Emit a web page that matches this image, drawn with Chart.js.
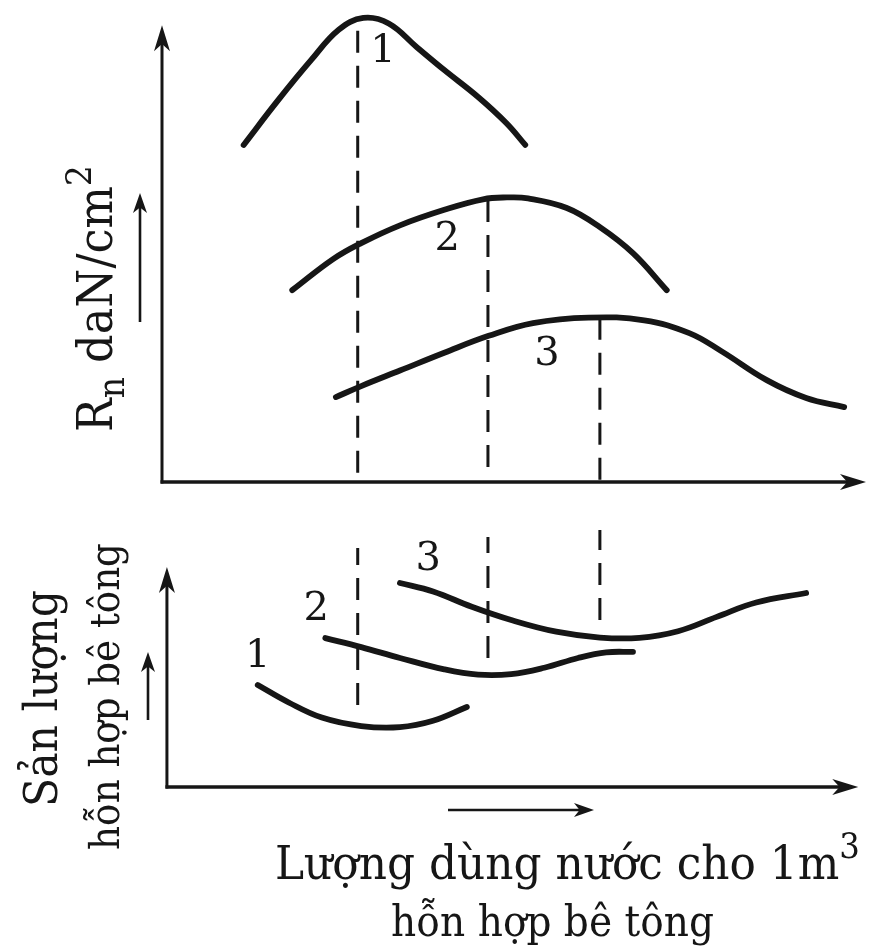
<!DOCTYPE html>
<html><head><meta charset="utf-8">
<script src="https://cdn.jsdelivr.net/npm/chart.js@4"></script>
<style>
html,body{margin:0;padding:0;background:#fff;}
#wrap{position:relative;width:871px;height:950px;overflow:hidden;background:#fff}
canvas{position:absolute;left:0}
#c1{top:0;width:871px;height:500px}
#c2{top:500px;width:871px;height:450px}
</style></head><body>
<div id="wrap"><canvas id="c1" width="871" height="500"></canvas><canvas id="c2" width="871" height="450"></canvas></div>
<script>
// ---------- data (arbitrary units) ----------
const curveLabels = ['1', '2', '3'];

// Top panel: strength R_n vs water content
const strength1X = [11.6, 16.5, 21.2, 25.1, 28.6, 32.2, 36.2, 40.1, 44.9, 48.9, 51.6];
const strength1Y = [73.8, 83.6, 92.4, 99.0, 101.6, 100.4, 95.2, 90.2, 84.3, 78.6, 73.8];
const strength2X = [18.5, 24.3, 28.3, 33.8, 40.1, 45.6, 49.0, 52.0, 57.5, 62.2, 66.9, 71.7];
const strength2Y = [42.0, 48.8, 52.3, 56.2, 59.6, 61.9, 62.3, 62.1, 60.0, 55.8, 50.1, 42.0];
const strength3X = [24.7, 28.3, 33.8, 40.1, 46.4, 52.7, 60.6, 68.5, 74.9, 79.5, 85.9, 91.5, 96.9];
const strength3Y = [18.6, 21.0, 24.4, 28.3, 32.0, 34.8, 36.0, 35.4, 32.6, 28.6, 22.3, 18.4, 16.4];
const strengthOptX = [27.8, 46.3, 62.2];
const strengthOptHigh = [101.0, 62.2, 36.0];
const strengthOptLow = [2.0, 3.3, 0.5];
const strengthLabelX = [31.4, 40.5, 54.7];
const strengthLabelY = [94.2, 53.0, 27.8];

// Bottom panel: yield of concrete mix vs water content
const yield1X = [13.6, 18.0, 22.7, 28.3, 33.8, 38.5, 43.3];
const yield1Y = [38.5, 31.9, 26.2, 23.0, 22.6, 25.0, 30.2];
const yield2X = [23.2, 28.3, 33.8, 40.1, 44.9, 49.6, 54.3, 59.1, 63.1, 66.9];
const yield2Y = [56.2, 52.8, 48.7, 44.4, 42.4, 42.6, 45.0, 48.7, 50.8, 51.0];
const yield3X = [33.8, 38.5, 44.0, 49.6, 56.0, 62.2, 67.8, 73.3, 78.8, 84.4, 91.5];
const yield3Y = [77.0, 73.8, 68.0, 63.0, 58.6, 56.4, 56.3, 58.8, 64.2, 69.6, 73.2];
const yieldOptX = [27.8, 46.3, 62.2];
const yieldOptHigh = [90.2, 94.3, 97.0];
const yieldOptLow = [30.9, 48.7, 63.0];
const yieldLabelX = [13.6, 21.9, 37.8];
const yieldLabelY = [49.1, 66.8, 85.7];

// texts
const topYTitle = [{t:'R'}, {t:'n', k:'sub'}, {t:' daN/cm'}, {t:'2', k:'sup'}];
const botYTitle1 = 'Sản lượng';
const botYTitle2 = 'hỗn hợp bê tông';
const xTitle1 = [{t:'Lượng dùng nước cho 1m'}, {t:'3', k:'sup'}];
const xTitle2 = 'hỗn hợp bê tông';

// ---------- drawing helpers ----------
const INK = '#161616';
const FAMILY = '"DejaVu Serif", "Liberation Serif", serif';
const SMALL = 0.74;
const pts = (xs, ys) => xs.map((x, i) => ({x, y: ys[i]}));

function arrowHead(ctx, tx, ty, dx, dy, len, hw) {
  const px = -dy, py = dx;
  const bx = tx - dx * len, by = ty - dy * len;
  const nx = tx - dx * len * 0.72, ny = ty - dy * len * 0.72;
  ctx.beginPath();
  ctx.moveTo(tx, ty);
  ctx.lineTo(bx + px * hw, by + py * hw);
  ctx.lineTo(nx, ny);
  ctx.lineTo(bx - px * hw, by - py * hw);
  ctx.closePath();
  ctx.fill();
}
function arrow(ctx, x1, y1, x2, y2, lw, len, hw) {
  const L = Math.hypot(x2 - x1, y2 - y1), dx = (x2 - x1) / L, dy = (y2 - y1) / L;
  ctx.lineWidth = lw;
  ctx.beginPath();
  ctx.moveTo(x1, y1);
  ctx.lineTo(x2 - dx * len * 0.6, y2 - dy * len * 0.6);
  ctx.stroke();
  arrowHead(ctx, x2, y2, dx, dy, len, hw);
}
function richWidth(ctx, segs, s) {
  let w = 0;
  segs.forEach(g => { ctx.font = `${g.k ? s * SMALL : s}px ${FAMILY}`; w += ctx.measureText(g.t).width; });
  return w;
}
function drawRich(ctx, segs, x, y, width, rot) {
  if (typeof segs === 'string') segs = [{t: segs}];
  const s = 100 * width / richWidth(ctx, segs, 100);
  ctx.save();
  ctx.translate(x, y);
  if (rot) ctx.rotate(-Math.PI / 2);
  ctx.scale(1, 1.08);
  ctx.textAlign = 'left';
  ctx.textBaseline = 'alphabetic';
  let cx = 0;
  segs.forEach(g => {
    const fs = g.k ? s * SMALL : s;
    const dy = g.k === 'sub' ? s * 0.24 : g.k === 'sup' ? -s * 0.44 : 0;
    ctx.font = `${fs}px ${FAMILY}`;
    ctx.fillText(g.t, cx, dy);
    cx += ctx.measureText(g.t).width;
  });
  ctx.restore();
}

const sketch = {
  id: 'sketch',
  afterDatasetsDraw(chart, args, o) {
    const ctx = chart.ctx, xs = chart.scales.x, ys = chart.scales.y;
    ctx.save();
    ctx.strokeStyle = INK; ctx.fillStyle = INK; ctx.lineCap = 'butt';
    const ox = xs.getPixelForValue(o.axisX), oy = ys.getPixelForValue(0);
    const ex = xs.getPixelForValue(o.xEnd), ey = ys.getPixelForValue(o.yEnd);
    arrow(ctx, ox, oy + 1.5, ox, ey, 3, 26, 8);
    arrow(ctx, ox - 1.5, oy, ex, oy, 3.4, 26, 8);
    // curve numbers
    ctx.font = `40px ${FAMILY}`;
    ctx.textAlign = 'center'; ctx.textBaseline = 'middle';
    o.labelX.forEach((x, i) => ctx.fillText(curveLabels[i], xs.getPixelForValue(x), ys.getPixelForValue(o.labelY[i])));
    // direction arrows
    o.arrows.forEach(a => arrow(ctx, a[0], a[1], a[2], a[3], 2.6, 20, 7));
    // texts
    o.texts.forEach(t => drawRich(ctx, t.segs, t.x, t.y, t.w, t.rot));
    ctx.restore();
  }
};

function curve(data) {
  return {data, borderColor: INK, borderWidth: 5.8, pointRadius: 0, fill: false,
    tension: 0.4, borderCapStyle: 'round', borderJoinStyle: 'round', clip: false};
}
function dashed(x, lo, hi) {
  return {data: [{x, y: lo}, {x, y: hi}], borderColor: INK, borderWidth: 3, pointRadius: 0,
    fill: false, borderDash: [22, 13], tension: 0, clip: false};
}

function makeChart(id, datasets, yMax, padding, plug) {
  return new Chart(document.getElementById(id), {
    type: 'line',
    data: {datasets},
    options: {
      responsive: false, animation: false,
      layout: {padding},
      scales: {
        x: {type: 'linear', min: 0, max: 100, display: false},
        y: {type: 'linear', min: 0, max: yMax, display: false}
      },
      plugins: {legend: {display: false}, tooltip: {enabled: false}, sketch: plug}
    },
    plugins: [sketch]
  });
}

makeChart('c1', [
  curve(pts(strength1X, strength1Y)),
  curve(pts(strength2X, strength2Y)),
  curve(pts(strength3X, strength3Y)),
  ...strengthOptX.map((x, i) => dashed(x, strengthOptLow[i], strengthOptHigh[i]))
], 104, {left: 162, right: 5, top: 7, bottom: 18}, {
  axisX: 0, xEnd: 100, yEnd: 100,
  labelX: strengthLabelX, labelY: strengthLabelY,
  arrows: [[462, 513, 608, 513], [140, 322, 140, 193]],
  texts: [{segs: topYTitle, x: 112, y: 432, w: 267, rot: true}]
});

makeChart('c2', [
  curve(pts(yield1X, yield1Y)),
  curve(pts(yield2X, yield2Y)),
  curve(pts(yield3X, yield3Y)),
  ...yieldOptX.map((x, i) => dashed(x, yieldOptLow[i], yieldOptHigh[i]))
], 100, {left: 162, right: 5, top: 22, bottom: 163}, {
  axisX: 0.7, xEnd: 98.9, yEnd: 83,
  labelX: yieldLabelX, labelY: yieldLabelY,
  arrows: [[448, 310, 594, 310], [148, 220, 148, 152]],
  texts: [
    {segs: botYTitle1, x: 57, y: 307, w: 217, rot: true},
    {segs: botYTitle2, x: 119, y: 350, w: 307, rot: true},
    {segs: xTitle1, x: 275, y: 379, w: 585, rot: false},
    {segs: xTitle2, x: 391, y: 436, w: 323, rot: false}
  ]
});
</script>
</body></html>
